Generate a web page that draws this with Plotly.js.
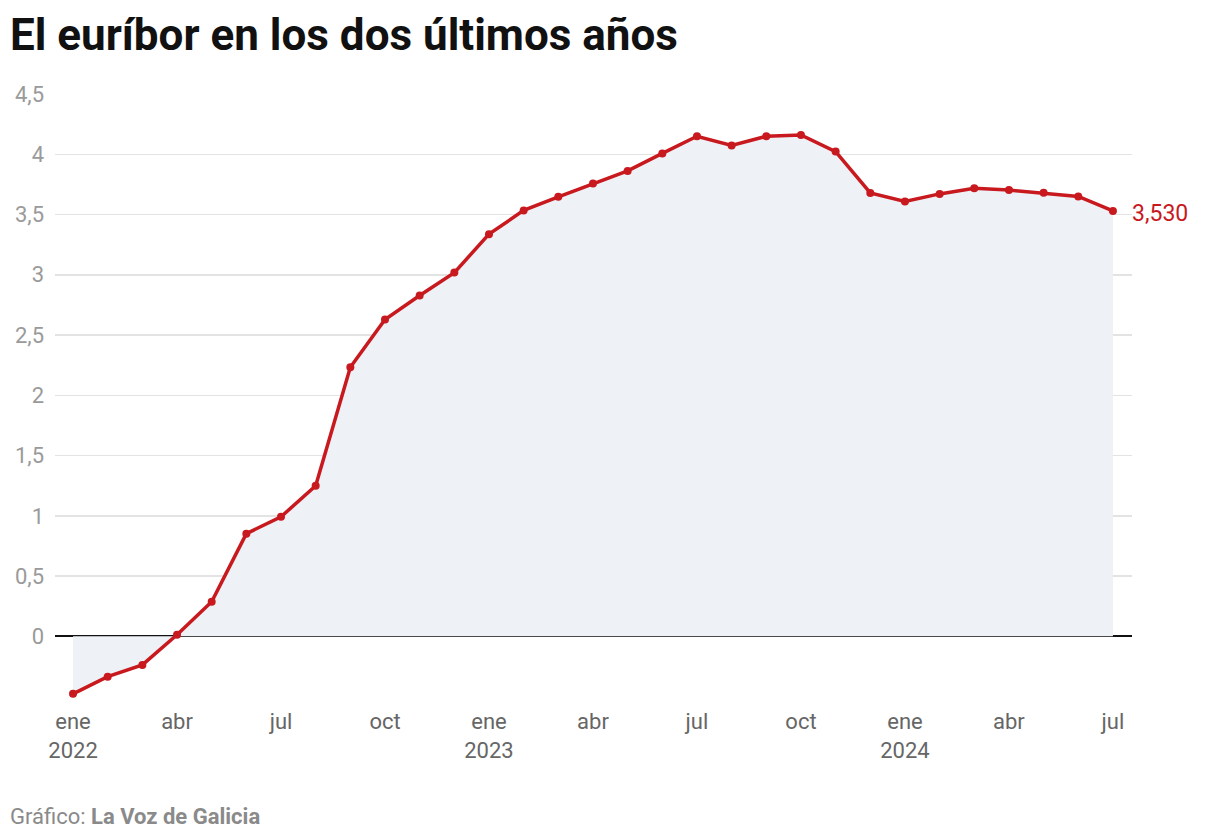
<!DOCTYPE html>
<html><head><meta charset="utf-8">
<script src="https://cdn.plot.ly/plotly-3.0.1.min.js"></script>
<style>body{margin:0;background:#fff}#chart{width:1220px;height:840px}</style>
</head><body><div id="chart"></div>
<script>
const months = ['ene 2022','feb 2022','mar 2022','abr 2022','may 2022','jun 2022','jul 2022','ago 2022','sep 2022','oct 2022','nov 2022','dic 2022',
'ene 2023','feb 2023','mar 2023','abr 2023','may 2023','jun 2023','jul 2023','ago 2023','sep 2023','oct 2023','nov 2023','dic 2023',
'ene 2024','feb 2024','mar 2024','abr 2024','may 2024','jun 2024','jul 2024'];
const euribor = [-0.477,-0.335,-0.237,0.013,0.287,0.852,0.992,1.249,2.233,2.629,2.828,3.018,
3.337,3.534,3.647,3.757,3.862,4.007,4.149,4.073,4.149,4.160,4.022,3.679,
3.609,3.671,3.718,3.703,3.680,3.650,3.530];
const tickIdx = [0,3,6,9,12,15,18,21,24,27,30];
const tickLabels = ['ene<br>2022','abr','jul','oct','ene<br>2023','abr','jul','oct','ene<br>2024','abr','jul'];
const yTicks = [0,0.5,1,1.5,2,2.5,3,3.5,4,4.5];
const lastLabel = '3,530';

const xIdx = months.map((m,i)=>i);
const red = '#c8191e';
const traces = [{
  x: xIdx, y: euribor, type:'scatter', mode:'lines+markers',
  fill:'tozeroy', fillcolor:'#eef1f6',
  line:{color:red,width:3.5}, marker:{color:red,size:8},
  hoverinfo:'skip'
}];
const layout = {
  width:1220, height:840,
  margin:{l:55,r:88,t:94,b:141},
  paper_bgcolor:'#fff', plot_bgcolor:'#fff',
  separators:',.',
  font:{family:'Roboto, sans-serif'},
  showlegend:false,
  title:{text:'<b>El euríbor en los dos últimos años</b>', x:10/1220, xanchor:'left', y:1-35/840, yanchor:'middle',
    font:{family:'Roboto, sans-serif', size:44, color:'#111'}},
  xaxis:{range:[-0.52,30.55], tickvals:tickIdx, ticktext:tickLabels, showgrid:false, zeroline:false,
    showline:false, ticks:'', ticklabelstandoff:7, tickfont:{size:22,color:'#666'}, fixedrange:true},
  yaxis:{range:[-0.52,4.5], tickvals:yTicks, showgrid:true, gridcolor:'#e3e3e3', gridwidth:1.5,
    zeroline:true, zerolinecolor:'#111', zerolinewidth:2, ticks:'', ticklabelstandoff:10,
    tickfont:{size:22,color:'#9a9a9a'}, tickformat:',.1~f', fixedrange:true},
  annotations:[
    {x:xIdx[xIdx.length-1], y:euribor[euribor.length-1], xref:'x', yref:'y', text:lastLabel, showarrow:false,
      xanchor:'left', xshift:17, yshift:-3, font:{size:23,color:red}},
    {xref:'paper', yref:'paper', x:-47/1077, y:-(816-698.6)/604.4, xanchor:'left', yanchor:'middle', showarrow:false,
      text:'Gráfico: <b>La Voz de Galicia</b>', font:{size:22,color:'#8a8a8a'}}
  ]
};
Plotly.newPlot('chart', traces, layout, {displayModeBar:false, staticPlot:true});
</script></body></html>
